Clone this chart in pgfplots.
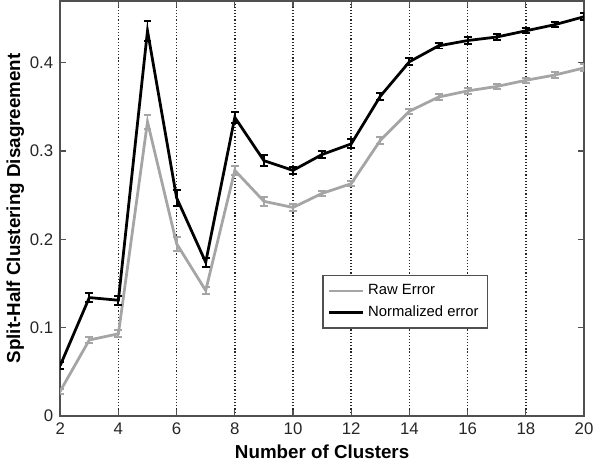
\documentclass[border=0pt]{standalone}
\usepackage{fontspec}
\setmainfont{Liberation Sans}
\usepackage{pgfplots}
\usepackage{pgfplotstable}
\pgfplotsset{compat=1.18}

\definecolor{rawgray}{RGB}{165,165,165}
\definecolor{frame}{RGB}{80,80,80}

% k  mean  err
\pgfplotstableread{
k  y      e
2  0.028  0.003
3  0.086  0.003
4  0.093  0.004
5  0.333  0.008
6  0.195  0.008
7  0.142  0.004
8  0.278  0.005
9  0.243  0.005
10 0.236  0.004
11 0.252  0.003
12 0.263  0.003
13 0.312  0.004
14 0.345  0.003
15 0.361  0.003
16 0.368  0.003
17 0.373  0.003
18 0.380  0.003
19 0.386  0.003
20 0.394  0.004
}\rawerr

\pgfplotstableread{
k  y      e
2  0.057  0.004
3  0.134  0.005
4  0.131  0.005
5  0.436  0.011
6  0.247  0.009
7  0.174  0.005
8  0.338  0.006
9  0.289  0.006
10 0.278  0.004
11 0.296  0.004
12 0.308  0.005
13 0.362  0.004
14 0.401  0.004
15 0.419  0.003
16 0.425  0.004
17 0.429  0.003
18 0.436  0.003
19 0.443  0.003
20 0.452  0.004
}\normerr

\begin{document}
\begin{tikzpicture}
\begin{axis}[
  scale only axis,
  width=265pt, height=210pt,
  xmin=2, xmax=20, ymin=0, ymax=0.47,
  xtick={2,4,...,20},
  ytick={0,0.1,0.2,0.3,0.4},
  yticklabels={0,0.1,0.2,0.3,0.4},
  tick align=inside,
  major tick length=3pt,
  tick style={frame, line width=0.6pt},
  axis line style={frame, line width=0.8pt},
  xmajorgrids,
  grid style={black!85, dash pattern=on 0.6pt off 1pt, line width=0.8pt},
  ticklabel style={font=\fontsize{8.5}{10}\selectfont, text=black!85},
  /pgf/number format/assume math mode=true,
  xlabel={\textbf{Number of Clusters}},
  ylabel={\textbf{Split-Half Clustering Disagreement}},
  label style={font=\fontsize{9.5}{11}\selectfont},
  xlabel style={yshift=2pt},
  ylabel style={yshift=-4pt},
  legend style={at={(0.5,0.34)}, anchor=north west, draw=frame,
    font=\fontsize{7.5}{9}\selectfont, line width=0.7pt,
    row sep=0pt, inner sep=2.5pt},
  legend cell align=left,
]
\addplot[rawgray, line width=1.4pt, mark=none,
  error bars/.cd, y dir=both, y explicit,
  error bar style={line width=1pt},
  error mark options={rotate=90, rawgray, line width=1pt, mark size=2pt}]
  table[x=k, y=y, y error=e]{\rawerr};
\addlegendentry{Raw Error}
\addplot[black, line width=1.4pt, mark=none,
  error bars/.cd, y dir=both, y explicit,
  error bar style={line width=1pt},
  error mark options={rotate=90, black, line width=1pt, mark size=2pt}]
  table[x=k, y=y, y error=e]{\normerr};
\addlegendentry{Normalized error}
\end{axis}
\end{tikzpicture}
\end{document}
